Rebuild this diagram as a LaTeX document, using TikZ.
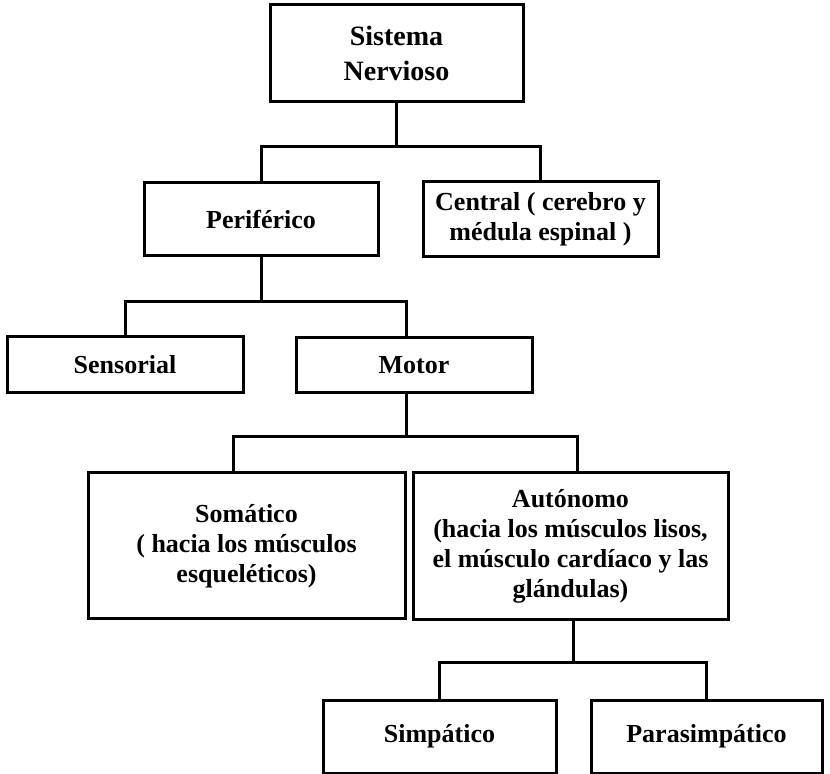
\documentclass[tikz,border=0pt]{standalone}
\usepackage{fontspec}
\setmainfont{Liberation Serif}
\usetikzlibrary{positioning}

\begin{document}
\begin{tikzpicture}[x=0.5pt,y=-0.5pt,line width=1.5pt,
  box/.style={draw,align=center,inner sep=2pt,font=\bfseries\fontsize{13}{15}\selectfont}]
  \useasboundingbox (0,0) rectangle (830,774);
  \node (sn) [box,minimum width=126.5pt,minimum height=48.5pt,font=\bfseries\fontsize{14}{17.5}\selectfont] at (396.5,53.5) {Sistema\\Nervioso};
  \node (per) [box,minimum width=117pt,minimum height=36.5pt] at (261,219.5) {Periférico};
  \node (cen) [box,minimum width=117.5pt,minimum height=37.5pt] at (540.5,219.5) {Central ( cerebro y\\médula espinal )};
  \node (sen) [box,minimum width=118pt,minimum height=28pt] at (125,365) {Sensorial};
  \node (mot) [box,minimum width=118pt,minimum height=27.5pt] at (414,365) {Motor};
  \node (som) [box,minimum width=158.5pt,minimum height=73pt] at (246.5,546) {Somático\\( hacia los músculos\\esqueléticos)};
  \node (aut) [box,minimum width=157.5pt,minimum height=73.5pt] at (570.5,546.5) {Autónomo\\(hacia los músculos lisos,\\el músculo cardíaco y las\\glándulas)};
  \node (sim) [box,minimum width=116.5pt,minimum height=36.5pt] at (439.5,736.5) {Simpático};
  \node (par) [box,minimum width=115.5pt,minimum height=36.5pt] at (706.5,736.5) {Parasimpático};
  \coordinate (b1) at (396.5,147);
  \coordinate (b2) at (261,302);
  \coordinate (b3) at (406,437);
  \coordinate (b4) at (573,663);
  \draw (sn.south) -- (b1);
  \draw (per.north) |- (b1) -| (cen.north);
  \draw (per.south) -- (b2);
  \draw (sen.north) |- (b2) -| ([xshift=-4pt]mot.north);
  \draw ([xshift=-4pt]mot.south) -- (b3);
  \draw ([xshift=-6.75pt]som.north) |- (b3) -| ([xshift=3.25pt]aut.north);
  \draw (aut.south -| b4) -- (b4);
  \draw (sim.north) |- (b4) -| (par.north);
\end{tikzpicture}
\end{document}
